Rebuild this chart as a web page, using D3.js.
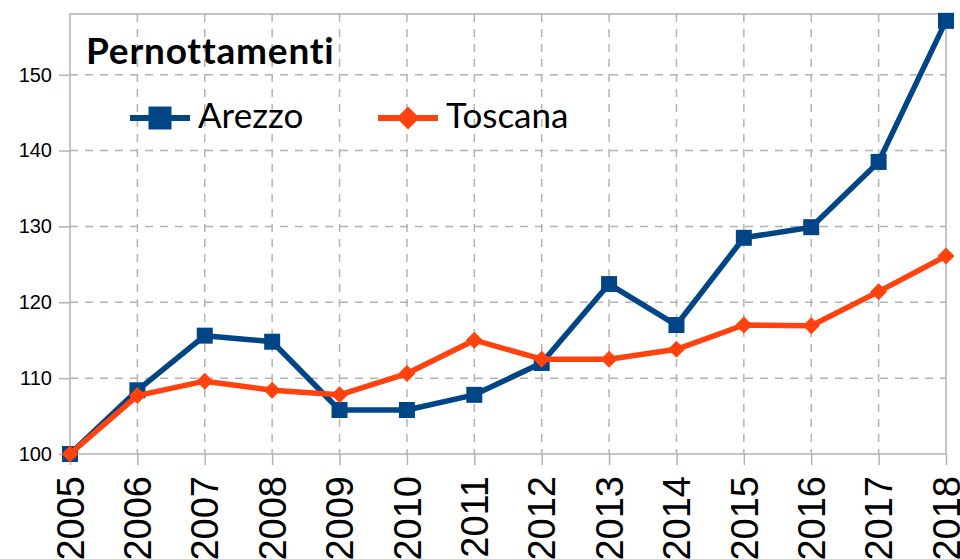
<!DOCTYPE html>
<html>
<head>
<meta charset="utf-8">
<script src="https://cdn.jsdelivr.net/npm/d3@7"></script>
<style>
  body { margin: 0; background: #fff; }
</style>
</head>
<body>
<div id="vis"></div>
<script>
const w = 960;
const h = 559;
const margin = ({ top: 14, right: 14, bottom: 105, left: 70 });

const years = [2005, 2006, 2007, 2008, 2009, 2010, 2011, 2012, 2013, 2014, 2015, 2016, 2017, 2018];
const arezzo = [100, 108.4, 115.6, 114.8, 105.8, 105.8, 107.8, 112.0, 122.4, 117.0, 128.5, 129.9, 138.5, 157.1];
const toscana = [100, 107.7, 109.6, 108.4, 107.8, 110.6, 115.0, 112.5, 112.5, 113.8, 117.0, 116.9, 121.4, 126.1];
const yTicks = [100, 110, 120, 130, 140, 150];

const gridColor = '#b3b3b3';

const svg = d3.select('#vis')
    .append('svg')
    .attr('width', w)
    .attr('height', h);

let xScale = d3.scalePoint()
    .domain(years)
    .range([margin.left, w - margin.right]);

let yScale = d3.scaleLinear()
    .domain([100, 158])
    .range([h - margin.bottom, margin.top]);

// square diamond, r = half diagonal
function diamond(r) {
    return 'M0,' + (-r) + 'L' + r + ',0L0,' + r + 'L' + (-r) + ',0Z';
}
function square(r) {
    return 'M' + (-r) + ',' + (-r) + 'H' + r + 'V' + r + 'H' + (-r) + 'Z';
}

// gridlines
svg.append('g')
    .selectAll('line')
    .data(yTicks.slice(1))
    .join('line')
    .attr('x1', margin.left)
    .attr('x2', w - margin.right)
    .attr('y1', d => yScale(d))
    .attr('y2', d => yScale(d))
    .attr('stroke', gridColor)
    .attr('stroke-width', 1.5)
    .attr('stroke-dasharray', '8,7');

svg.append('g')
    .selectAll('line')
    .data(years.slice(1, -1))
    .join('line')
    .attr('x1', d => xScale(d))
    .attr('x2', d => xScale(d))
    .attr('y1', margin.top)
    .attr('y2', h - margin.bottom)
    .attr('stroke', gridColor)
    .attr('stroke-width', 1.5)
    .attr('stroke-dasharray', '8,7');

// frame
svg.append('rect')
    .attr('x', margin.left)
    .attr('y', margin.top)
    .attr('width', w - margin.right - margin.left)
    .attr('height', h - margin.bottom - margin.top)
    .attr('fill', 'none')
    .attr('stroke', gridColor)
    .attr('stroke-width', 1.5);

// axes
let yAxis = d3.axisLeft(yScale)
    .tickValues(yTicks)
    .tickSize(11)
    .tickPadding(7);

let xAxis = d3.axisBottom(xScale)
    .tickSize(11)
    .tickFormat('');

let gy = svg.append('g')
    .attr('transform', 'translate(' + margin.left + ', 0)')
    .call(yAxis);
gy.select('.domain').remove();
gy.selectAll('.tick line').attr('stroke', gridColor).attr('stroke-width', 1.5);
gy.selectAll('.tick text')
    .attr('font-family', 'Liberation Sans, Arial, sans-serif')
    .attr('font-size', '20px')
    .attr('fill', '#000');

let gx = svg.append('g')
    .attr('transform', 'translate(0, ' + (h - margin.bottom) + ')')
    .call(xAxis);
gx.select('.domain').remove();
gx.selectAll('.tick line').attr('stroke', gridColor).attr('stroke-width', 1.5);

// year labels run off the bottom edge, as in the original
svg.append('g')
    .selectAll('text')
    .data(years)
    .join('text')
    .attr('transform', d => 'translate(' + xScale(d) + ',' + (h - margin.bottom + 22) + ') rotate(-90)')
    .attr('text-anchor', 'end')
    .attr('dy', '0.36em')
    .attr('font-family', 'Liberation Sans, Arial, sans-serif')
    .attr('font-size', '38px')
    .attr('fill', '#000')
    .text(d => d);

// series
const series = [
    { name: 'Arezzo', values: arezzo, color: '#004586', shape: square, r: 8, lr: 11.5 },
    { name: 'Toscana', values: toscana, color: '#ff420e', shape: diamond, r: 8.5, lr: 11.5 }
];

let line = d3.line()
    .x((d, i) => xScale(years[i]))
    .y(d => yScale(d));

series.forEach(s => {
    svg.append('path')
        .datum(s.values)
        .attr('d', line)
        .attr('fill', 'none')
        .attr('stroke', s.color)
        .attr('stroke-width', 5.5)
        .attr('stroke-linejoin', 'round');

    svg.append('g')
        .selectAll('path')
        .data(s.values)
        .join('path')
        .attr('transform', (d, i) => 'translate(' + xScale(years[i]) + ',' + yScale(d) + ')')
        .attr('d', s.shape(s.r))
        .attr('fill', s.color);
});

// title
svg.append('text')
    .attr('x', 86)
    .attr('y', 64)
    .text('Pernottamenti')
    .attr('font-family', 'Lato, sans-serif')
    .attr('font-weight', 'bold')
    .attr('font-size', '37px')
    .attr('letter-spacing', '0.8px')
    .attr('fill', '#000');

// legend
const legendX = [130, 378];
series.forEach((s, i) => {
    let g = svg.append('g')
        .attr('transform', 'translate(' + legendX[i] + ',118)');
    g.append('line')
        .attr('x1', 0)
        .attr('x2', 60)
        .attr('stroke', s.color)
        .attr('stroke-width', 6);
    g.append('path')
        .attr('transform', 'translate(30,0)')
        .attr('d', s.shape(s.lr))
        .attr('fill', s.color);
    g.append('text')
        .attr('x', 68)
        .attr('y', 10)
        .text(s.name)
        .attr('font-family', 'Lato, sans-serif')
        .attr('font-size', '35px')
        .attr('fill', '#000');
});
</script>
</body>
</html>
